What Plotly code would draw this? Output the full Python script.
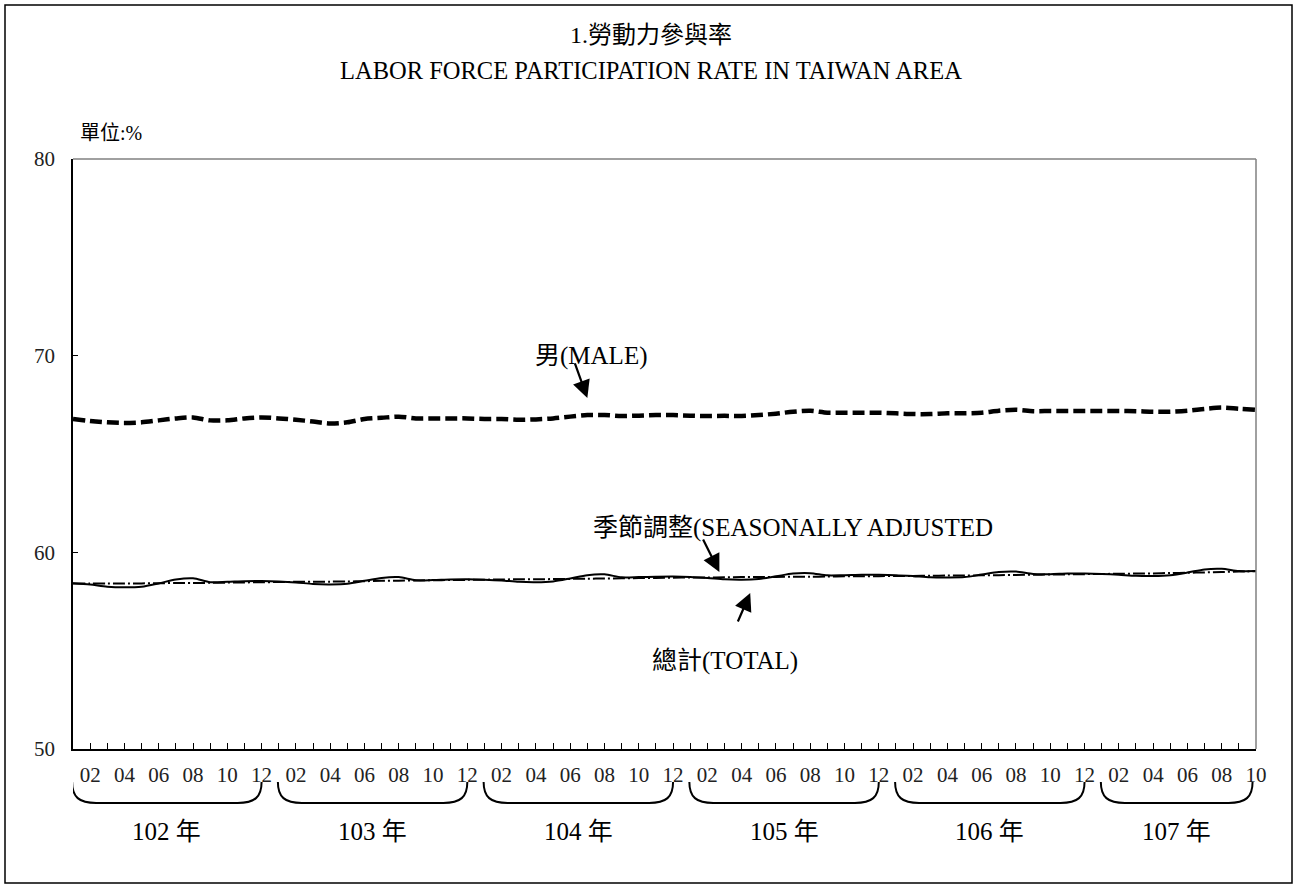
import plotly.graph_objects as go

# ---------------- data ----------------
years = [102, 103, 104, 105, 106, 107]
last_month = 10
year_labels = ["102 年", "103 年", "104 年", "105 年", "106 年", "107 年"]

male = [66.78, 66.68, 66.61, 66.58, 66.61, 66.71, 66.81, 66.86, 66.71, 66.71, 66.81, 66.86,
        66.81, 66.74, 66.65, 66.55, 66.61, 66.78, 66.84, 66.90, 66.81, 66.81, 66.81, 66.81,
        66.78, 66.78, 66.74, 66.76, 66.81, 66.90, 66.98, 66.98, 66.93, 66.95, 66.98, 66.98,
        66.95, 66.93, 66.94, 66.93, 66.98, 67.05, 67.15, 67.20, 67.10, 67.10, 67.10, 67.10,
        67.07, 67.03, 67.03, 67.07, 67.07, 67.10, 67.20, 67.25, 67.18, 67.19, 67.19, 67.19,
        67.19, 67.19, 67.18, 67.15, 67.15, 67.20, 67.29, 67.36, 67.30, 67.25]

total = [58.43, 58.36, 58.25, 58.22, 58.25, 58.42, 58.62, 58.68, 58.48, 58.50, 58.53, 58.54,
         58.52, 58.47, 58.39, 58.37, 58.40, 58.55, 58.70, 58.74, 58.58, 58.59, 58.62, 58.63,
         58.61, 58.57, 58.50, 58.48, 58.52, 58.67, 58.84, 58.88, 58.73, 58.74, 58.76, 58.77,
         58.75, 58.70, 58.63, 58.61, 58.65, 58.78, 58.92, 58.94, 58.83, 58.84, 58.86, 58.86,
         58.84, 58.79, 58.73, 58.72, 58.74, 58.87, 59.00, 59.02, 58.90, 58.89, 58.92, 58.92,
         58.90, 58.86, 58.81, 58.80, 58.84, 58.97, 59.13, 59.16, 59.05, 59.05]

seasonal = [58.42, 58.42, 58.41, 58.41, 58.42, 58.43, 58.44, 58.44, 58.45, 58.46, 58.47, 58.48,
            58.49, 58.50, 58.50, 58.51, 58.52, 58.53, 58.55, 58.56, 58.57, 58.58, 58.59, 58.60,
            58.61, 58.62, 58.63, 58.63, 58.64, 58.65, 58.66, 58.67, 58.68, 58.69, 58.70, 58.71,
            58.72, 58.72, 58.73, 58.74, 58.74, 58.75, 58.76, 58.76, 58.77, 58.78, 58.78, 58.79,
            58.80, 58.80, 58.81, 58.82, 58.82, 58.83, 58.84, 58.85, 58.86, 58.87, 58.88, 58.89,
            58.90, 58.91, 58.92, 58.93, 58.95, 58.96, 58.98, 59.00, 59.02, 59.04]

y_ticks = [50, 60, 70, 80]

# month labels (category index positions)
month_nums = []
for yr in years:
    n = 12 if yr != years[-1] else last_month
    month_nums += list(range(1, n + 1))
xs = list(range(len(month_nums)))
tick_text = [f"{m:02d}" if m % 2 == 0 else "" for m in month_nums]

FONT = "Liberation Serif, 'Noto Sans CJK TC', serif"

fig = go.Figure()
fig.add_trace(go.Scatter(x=xs, y=male, mode="lines", name="男(MALE)",
                         line=dict(color="black", width=4.5, dash="12px,5px", shape="spline", smoothing=0.8)))
fig.add_trace(go.Scatter(x=xs, y=seasonal, mode="lines", name="季節調整",
                         line=dict(color="black", width=2, dash="12px,3px,2px,3px", shape="spline", smoothing=0.8)))
fig.add_trace(go.Scatter(x=xs, y=total, mode="lines", name="總計(TOTAL)",
                         line=dict(color="black", width=2, shape="spline", smoothing=0.8)))

# ---------------- layout geometry ----------------
W, H = 1299, 890
L, R, T, B = 73, 43, 159, 141
pw, ph = W - L - R, H - T - B

def px_x(p):
    return (p - L) / pw

def px_y(p):
    return (H - B - p) / ph

shapes = []
# outer border
shapes.append(dict(type="rect", xref="paper", yref="paper",
                   x0=px_x(5), x1=px_x(1292), y0=px_y(883), y1=px_y(5),
                   line=dict(color="black", width=1.5), layer="below"))
# plot-area top & right border (grey)
shapes.append(dict(type="line", xref="paper", yref="paper", x0=0, x1=1, y0=1, y1=1,
                   line=dict(color="#808080", width=1.5)))
shapes.append(dict(type="line", xref="paper", yref="paper", x0=1, x1=1, y0=0, y1=1,
                   line=dict(color="#808080", width=1.5)))

# braces under each year
yt, yb = px_y(782), px_y(803)
ym = px_y(797)
r = 1.4
annotations = []
start = 0
for yi, yr in enumerate(years):
    n = 12 if yr != years[-1] else last_month
    s = start - 0.05
    e = start + 11 if n == 12 else start + n - 1 - 0.2
    path = (f"M {s},{yt} C {s},{ym} {s + 0.4},{yb} {s + r},{yb} "
            f"L {e - r},{yb} C {e - 0.4},{yb} {e},{ym} {e},{yt}")
    shapes.append(dict(type="path", xref="x", yref="paper", path=path,
                       line=dict(color="black", width=2)))
    annotations.append(dict(x=(s + e) / 2, y=px_y(832), xref="x", yref="paper",
                            yanchor="middle", text=year_labels[yi], showarrow=False,
                            font=dict(family=FONT, size=25, color="black")))
    start += n

# titles
annotations.append(dict(x=px_x(651), y=px_y(35), xref="paper", yref="paper", yanchor="middle",
                        text="1.勞動力參與率", showarrow=False,
                        font=dict(family=FONT, size=24, color="black")))
annotations.append(dict(x=px_x(651), y=px_y(71), xref="paper", yref="paper", yanchor="middle",
                        text="LABOR FORCE PARTICIPATION RATE IN TAIWAN AREA", showarrow=False,
                        font=dict(family=FONT, size=24.5, color="black")))
annotations.append(dict(x=px_x(78), y=px_y(133), xref="paper", yref="paper", xanchor="left",
                        yanchor="middle", text="單位:%", showarrow=False,
                        font=dict(family=FONT, size=20, color="black")))

# series labels
lab_font = dict(family=FONT, size=25, color="black")
annotations.append(dict(x=30.2, y=69.98, xref="x", yref="y", yanchor="middle", text="男(MALE)",
                        showarrow=False, font=lab_font))
annotations.append(dict(x=42.0, y=61.24, xref="x", yref="y", yanchor="middle",
                        text="季節調整(SEASONALLY ADJUSTED", showarrow=False, font=lab_font))
annotations.append(dict(x=38.0, y=54.48, xref="x", yref="y", yanchor="middle", text="總計(TOTAL)",
                        showarrow=False, font=lab_font))

# arrows
arrow = dict(showarrow=True, text="", arrowhead=2, arrowsize=1.6, arrowwidth=2.2,
             arrowcolor="black", xref="x", yref="y", axref="pixel", ayref="pixel")
annotations.append(dict(x=30.0, y=67.85, ax=-13, ay=-36, **arrow))
annotations.append(dict(x=37.7, y=59.0, ax=-17, ay=-34, **arrow))
annotations.append(dict(x=39.5, y=57.93, ax=-13, ay=30, **arrow))

fig.update_layout(
    width=W, height=H,
    margin=dict(l=L, r=R, t=T, b=B),
    paper_bgcolor="white", plot_bgcolor="white",
    showlegend=False,
    shapes=shapes,
    annotations=annotations,
    xaxis=dict(range=[0, len(xs) - 1], tickmode="array", tickvals=xs, ticktext=tick_text,
               ticks="inside", ticklen=6, tickwidth=1, tickcolor="black",
               showline=True, linecolor="black", linewidth=1.5, showgrid=False, zeroline=False,
               tickangle=0, ticklabelstandoff=6,
               tickfont=dict(family=FONT, size=21, color="#222")),
    yaxis=dict(range=[50, 80], tickmode="array", tickvals=y_ticks,
               ticks="inside", ticklen=5, tickwidth=1, tickcolor="black",
               showline=True, linecolor="black", linewidth=1.5, showgrid=False, zeroline=False,
               ticklabelstandoff=12,
               tickfont=dict(family=FONT, size=21, color="#222")),
)

fig.write_html("out.html", config={"displayModeBar": False},
               post_script="document.body.style.margin='0';")
